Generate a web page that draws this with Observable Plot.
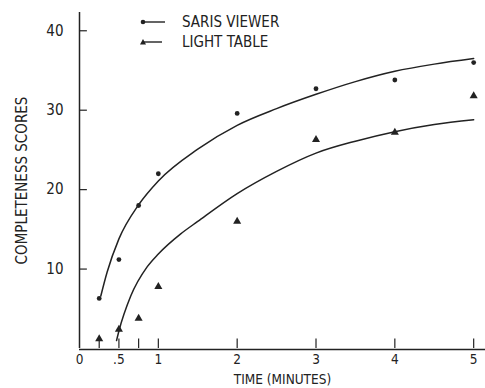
<!DOCTYPE html>
<html>
<head>
<meta charset="utf-8">
<script src="https://cdn.jsdelivr.net/npm/d3@7"></script>
<script src="https://cdn.jsdelivr.net/npm/@observablehq/plot@0.6"></script>
<style>
  html, body { margin: 0; padding: 0; background: #fff; }
  #wrap { position: relative; width: 485px; height: 388px; font-family: "DejaVu Sans Condensed", "Liberation Sans Narrow", "DejaVu Sans", sans-serif; color: #222; }
  .leg { position: absolute; left: 138px; font-size: 15px; display: flex; align-items: center; }
  .leg svg { margin-right: 14px; }
</style>
</head>
<body>
<div id="wrap">
  <div class="leg" style="top:13px"><svg width="30" height="12"><circle cx="5" cy="6" r="2.3" fill="#222"/><line x1="5" y1="6" x2="27" y2="6" stroke="#222" stroke-width="1.4"/></svg>SARIS VIEWER</div>
  <div class="leg" style="top:33px"><svg width="30" height="12"><path d="M5,3 L8,8.5 L2,8.5 Z" fill="#222"/><line x1="5" y1="6" x2="24" y2="6" stroke="#222" stroke-width="1.4"/></svg>LIGHT TABLE</div>
</div>
<script>
// observed points
const times = [0.25, 0.5, 0.75, 1, 2, 3, 4, 5];
const sarisScores = [6.3, 11.2, 18.0, 22.0, 29.6, 32.7, 33.8, 36.0];
const lightScores = [1.2, 2.4, 3.8, 7.8, 16.0, 26.3, 27.2, 31.8];

// fitted curves
const sarisCurveT = [0.27, 0.35, 0.5, 0.75, 1, 1.5, 2, 2.5, 3, 3.5, 4, 4.5, 5];
const sarisCurveY = [6.6, 9.6, 13.8, 18.1, 21.1, 25.1, 28.1, 30.2, 32.0, 33.6, 34.9, 35.8, 36.5];
const lightCurveT = [0.47, 0.5, 0.65, 0.86, 1, 1.28, 1.5, 2, 2.5, 3, 3.5, 4, 4.5, 5];
const lightCurveY = [1.0, 2.2, 6.6, 10.3, 11.9, 14.4, 16.0, 19.5, 22.3, 24.6, 26.1, 27.3, 28.2, 28.8];

// axis ticks
const xTickMarks = [0.25, 0.5, 0.75, 1, 2, 3, 4, 5];
const xTickLabels = [0, 0.5, 1, 2, 3, 4, 5];
const yTickVals = [10, 20, 30, 40];

const saris = times.map((t, i) => ({t, v: sarisScores[i]}));
const light = times.map((t, i) => ({t, v: lightScores[i]}));
const sarisCurve = sarisCurveT.map((t, i) => ({t, v: sarisCurveY[i]}));
const lightCurve = lightCurveT.map((t, i) => ({t, v: lightCurveY[i]}));

const ink = "#222";
const chart = Plot.plot({
  width: 485,
  height: 388,
  marginLeft: 79,
  marginRight: 0,
  marginTop: 12,
  marginBottom: 40,
  style: {fontFamily: '"DejaVu Sans Condensed", "Liberation Sans Narrow", "DejaVu Sans", sans-serif', color: ink, background: "white"},
  x: {domain: [0, 5.15]},
  y: {domain: [0, 42.3]},
  marks: [
    Plot.axisX({ticks: xTickLabels, tickSize: 0, tickPadding: 6, fontSize: 13.5,
      tickFormat: d => d === 0.5 ? ".5" : String(d),
      label: "TIME (MINUTES)", labelAnchor: "center", labelArrow: "none", labelOffset: 35}),
    Plot.axisY({ticks: yTickVals, tickSize: 0, tickPadding: 16, fontSize: 15,
      label: "COMPLETENESS SCORES", labelAnchor: "center", labelArrow: "none", labelOffset: 63}),
    Plot.ruleY([0], {stroke: ink, strokeWidth: 1.5, dy: 1}),
    Plot.ruleX([0], {stroke: ink, strokeWidth: 1.5, y1: 0, y2: 42.3}),
    Plot.ruleX(xTickMarks, {y1: 0, y2: 1.2, stroke: ink, strokeWidth: 1.2}),
    Plot.ruleY(yTickVals, {x1: 0, x2: 0.1, stroke: ink, strokeWidth: 1.2}),
    Plot.line(sarisCurve, {x: "t", y: "v", curve: "monotone-x", stroke: ink, strokeWidth: 1.5}),
    Plot.line(lightCurve, {x: "t", y: "v", curve: "monotone-x", stroke: ink, strokeWidth: 1.5}),
    Plot.dot(saris, {x: "t", y: "v", r: 2.4, fill: ink, stroke: "none"}),
    Plot.dot(light, {x: "t", y: "v", r: 3, symbol: "triangle", fill: ink, stroke: "none"})
  ]
});
document.getElementById("wrap").prepend(chart);
chart.style.position = "absolute";
chart.style.left = "0";
chart.style.top = "0";
</script>
</body>
</html>
